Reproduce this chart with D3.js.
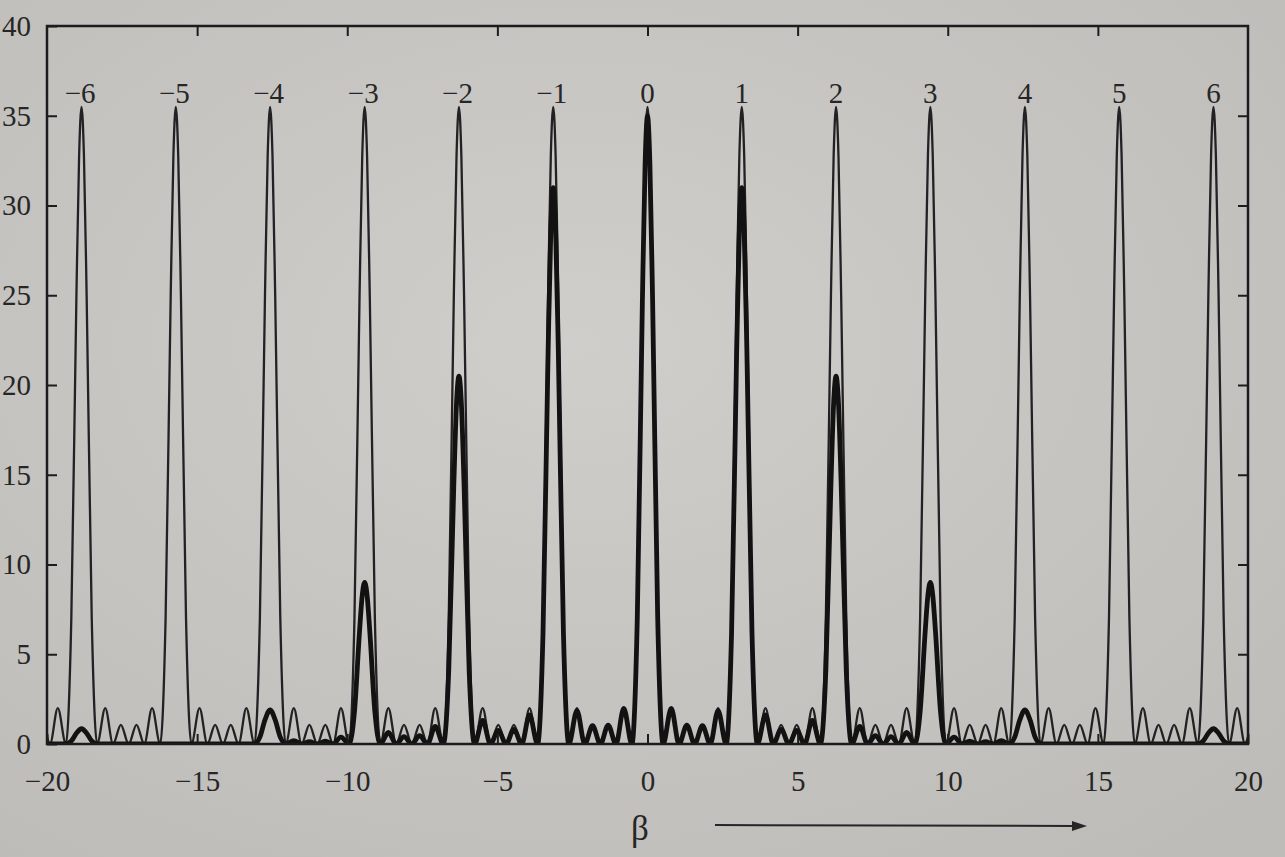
<!DOCTYPE html>
<html>
<head>
<meta charset="utf-8">
<script src="https://cdn.jsdelivr.net/npm/d3@7"></script>
<style>
  html, body { margin: 0; padding: 0; background: #c8c6c3; }
  svg { display: block; }
</style>
</head>
<body>
<svg id="chart" width="1285" height="857"></svg>
<script>
// ---- data ----
const xTicks = [-20, -15, -10, -5, 0, 5, 10, 15, 20];
const yTicks = [0, 5, 10, 15, 20, 25, 30, 35, 40];
const orderLabels = [-6, -5, -4, -3, -2, -1, 0, 1, 2, 3, 4, 5, 6];
const orderBeta = [-18.85, -15.71, -12.57, -9.42, -6.28, -3.14, 0, 3.14, 6.28, 9.42, 12.57, 15.71, 18.85];

// thin line: interference pattern of 6 slits  [beta, intensity]
const thinCurve = [
  [-20,0.4],[-19.9,0],[-19.64,2.0],[-19.37,0],[-19.19,7],[-19.02,25],[-18.93,32.8],[-18.85,35.5],[-18.77,32.8],[-18.68,25],[-18.51,7],[-18.33,0],[-18.06,2.0],[-17.8,0],[-17.54,1.07],[-17.28,0],
  [-17.02,1.07],[-16.76,0],[-16.5,2.0],[-16.23,0],[-16.05,7],[-15.88,25],[-15.79,32.8],[-15.71,35.5],[-15.63,32.8],[-15.54,25],[-15.37,7],[-15.19,0],[-14.92,2.0],[-14.66,0],[-14.4,1.07],[-14.14,0],
  [-13.88,1.07],[-13.62,0],[-13.36,2.0],[-13.09,0],[-12.91,7],[-12.74,25],[-12.65,32.8],[-12.57,35.5],[-12.49,32.8],[-12.4,25],[-12.23,7],[-12.05,0],[-11.78,2.0],[-11.52,0],[-11.26,1.07],[-11.0,0],
  [-10.73,1.07],[-10.47,0],[-10.21,2.0],[-9.94,0],[-9.76,7],[-9.59,25],[-9.5,32.8],[-9.42,35.5],[-9.34,32.8],[-9.25,25],[-9.08,7],[-8.9,0],[-8.63,2.0],[-8.37,0],[-8.11,1.07],[-7.85,0],
  [-7.59,1.07],[-7.33,0],[-7.07,2.0],[-6.8,0],[-6.62,7],[-6.45,25],[-6.36,32.8],[-6.28,35.5],[-6.2,32.8],[-6.11,25],[-5.94,7],[-5.76,0],[-5.49,2.0],[-5.23,0],[-4.97,1.07],[-4.71,0],
  [-4.45,1.07],[-4.19,0],[-3.93,2.0],[-3.66,0],[-3.48,7],[-3.31,25],[-3.22,32.8],[-3.14,35.5],[-3.06,32.8],[-2.97,25],[-2.8,7],[-2.62,0],[-2.35,2.0],[-2.09,0],[-1.83,1.07],[-1.57,0],
  [-1.31,1.07],[-1.05,0],[-0.79,2.0],[-0.52,0],[-0.34,7],[-0.17,25],[-0.08,32.8],[0,35.5],[0.08,32.8],[0.17,25],[0.34,7],[0.52,0],[0.79,2.0],[1.05,0],[1.31,1.07],[1.57,0],
  [1.83,1.07],[2.09,0],[2.35,2.0],[2.62,0],[2.8,7],[2.97,25],[3.06,32.8],[3.14,35.5],[3.22,32.8],[3.31,25],[3.48,7],[3.66,0],[3.93,2.0],[4.19,0],[4.45,1.07],[4.71,0],
  [4.97,1.07],[5.23,0],[5.49,2.0],[5.76,0],[5.94,7],[6.11,25],[6.2,32.8],[6.28,35.5],[6.36,32.8],[6.45,25],[6.62,7],[6.8,0],[7.07,2.0],[7.33,0],[7.59,1.07],[7.85,0],
  [8.11,1.07],[8.37,0],[8.63,2.0],[8.9,0],[9.08,7],[9.25,25],[9.34,32.8],[9.42,35.5],[9.5,32.8],[9.59,25],[9.76,7],[9.94,0],[10.21,2.0],[10.47,0],[10.73,1.07],[11.0,0],
  [11.26,1.07],[11.52,0],[11.78,2.0],[12.05,0],[12.23,7],[12.4,25],[12.49,32.8],[12.57,35.5],[12.65,32.8],[12.74,25],[12.91,7],[13.09,0],[13.36,2.0],[13.62,0],[13.88,1.07],[14.14,0],
  [14.4,1.07],[14.66,0],[14.92,2.0],[15.19,0],[15.37,7],[15.54,25],[15.63,32.8],[15.71,35.5],[15.79,32.8],[15.88,25],[16.05,7],[16.23,0],[16.5,2.0],[16.76,0],[17.02,1.07],[17.28,0],
  [17.54,1.07],[17.8,0],[18.06,2.0],[18.33,0],[18.51,7],[18.68,25],[18.77,32.8],[18.85,35.5],[18.93,32.8],[19.02,25],[19.19,7],[19.37,0],[19.64,2.0],[19.9,0],[20,0.4]
];

// thick line: same pattern modulated by the single-slit envelope  [beta, intensity]
const thickCurve = [
  [-20,0],[-19.37,0],[-19.19,0.17],[-19.02,0.6],[-18.85,0.85],[-18.68,0.6],[-18.51,0.17],[-18.33,0],
  [-13.09,0],[-12.91,0.38],[-12.74,1.34],[-12.57,1.9],[-12.4,1.34],[-12.23,0.38],[-12.05,0],[-11.78,0.18],[-11.52,0],[-11.26,0.13],[-11.0,0],
  [-10.73,0.16],[-10.47,0],[-10.21,0.38],[-9.94,0],[-9.76,1.8],[-9.59,6.3],[-9.5,8.3],[-9.42,9],[-9.34,8.3],[-9.25,6.3],[-9.08,1.8],[-8.9,0],[-8.63,0.65],[-8.37,0],[-8.11,0.41],[-7.85,0],
  [-7.59,0.46],[-7.33,0],[-7.07,0.98],[-6.8,0],[-6.62,4.1],[-6.45,14.5],[-6.36,19],[-6.28,20.5],[-6.2,19],[-6.11,14.5],[-5.94,4.1],[-5.76,0],[-5.49,1.31],[-5.23,0],[-4.97,0.76],[-4.71,0],
  [-4.45,0.82],[-4.19,0],[-3.93,1.62],[-3.66,0],[-3.48,6.2],[-3.31,21.9],[-3.22,28.6],[-3.14,31],[-3.06,28.6],[-2.97,21.9],[-2.8,6.2],[-2.62,0],[-2.35,1.86],[-2.09,0],[-1.83,1.02],[-1.57,0],
  [-1.31,1.05],[-1.05,0],[-0.79,1.98],[-0.52,0],[-0.34,7],[-0.17,24.7],[-0.08,32.3],[0,35],[0.08,32.3],[0.17,24.7],[0.34,7],[0.52,0],[0.79,1.98],[1.05,0],[1.31,1.05],[1.57,0],
  [1.83,1.02],[2.09,0],[2.35,1.86],[2.62,0],[2.8,6.2],[2.97,21.9],[3.06,28.6],[3.14,31],[3.22,28.6],[3.31,21.9],[3.48,6.2],[3.66,0],[3.93,1.62],[4.19,0],[4.45,0.82],[4.71,0],
  [4.97,0.76],[5.23,0],[5.49,1.31],[5.76,0],[5.94,4.1],[6.11,14.5],[6.2,19],[6.28,20.5],[6.36,19],[6.45,14.5],[6.62,4.1],[6.8,0],[7.07,0.98],[7.33,0],[7.59,0.46],[7.85,0],
  [8.11,0.41],[8.37,0],[8.63,0.65],[8.9,0],[9.08,1.8],[9.25,6.3],[9.34,8.3],[9.42,9],[9.5,8.3],[9.59,6.3],[9.76,1.8],[9.94,0],[10.21,0.38],[10.47,0],[10.73,0.16],[11.0,0],
  [11.26,0.13],[11.52,0],[11.78,0.18],[12.05,0],[12.23,0.38],[12.4,1.34],[12.57,1.9],[12.74,1.34],[12.91,0.38],[13.09,0],
  [18.33,0],[18.51,0.17],[18.68,0.6],[18.85,0.85],[19.02,0.6],[19.19,0.17],[19.37,0],[20,0]
];

// ---- drawing ----
const svg = d3.select('#chart');
const W = 1285, H = 857;
const mLeft = 47, mRight = 1248, mTop = 26, mBottom = 744;

const defs = svg.append('defs');
const grad = defs.append('radialGradient').attr('id', 'paper')
  .attr('cx', '45%').attr('cy', '40%').attr('r', '75%');
grad.append('stop').attr('offset', '0%').attr('stop-color', '#d0cecb');
grad.append('stop').attr('offset', '100%').attr('stop-color', '#bebcb8');
svg.append('rect').attr('width', W).attr('height', H).attr('fill', 'url(#paper)');

const x = d3.scaleLinear().domain([-20, 20]).range([mLeft, mRight]);
const y = d3.scaleLinear().domain([0, 40]).range([mBottom, mTop]);

const ink = '#1c1c1c';
const textInk = '#262626';
const font = '"Liberation Serif", "DejaVu Serif", serif';

defs.append('clipPath').attr('id', 'clip')
  .append('rect').attr('x', mLeft).attr('y', mTop).attr('width', mRight - mLeft).attr('height', mBottom - mTop);

const line = d3.line().x(d => x(d[0])).y(d => y(d[1])).curve(d3.curveMonotoneX);

const plot = svg.append('g').attr('clip-path', 'url(#clip)');
plot.append('path').datum(thinCurve).attr('d', line)
  .attr('fill', 'none').attr('stroke', '#222').attr('stroke-width', 2.3).attr('stroke-linejoin', 'round');
plot.append('path').datum(thickCurve).attr('d', line)
  .attr('fill', 'none').attr('stroke', '#121212').attr('stroke-width', 4.8).attr('stroke-linejoin', 'round');

// axes (inward ticks on all four sides)
const tickLen = 10;
const axB = d3.axisBottom(x).tickValues(xTicks).tickSize(tickLen).tickPadding(12)
  .tickFormat(d3.format('d'));
const gB = svg.append('g').attr('transform', `translate(0,${mBottom})`).call(axB);
gB.selectAll('.tick line').attr('y2', -tickLen);
gB.selectAll('.tick text').attr('dy', '0.85em');

const axT = d3.axisTop(x).tickValues(xTicks.slice(1, -1)).tickSize(-tickLen).tickFormat('');
const gT = svg.append('g').attr('transform', `translate(0,${mTop})`).call(axT);

const axL = d3.axisLeft(y).tickValues(yTicks).tickSize(-tickLen).tickPadding(16)
  .tickFormat(d3.format('d'));
const gL = svg.append('g').attr('transform', `translate(${mLeft},0)`).call(axL);

const axR = d3.axisRight(y).tickValues(yTicks.slice(1, -1)).tickSize(-tickLen).tickFormat('');
const gR = svg.append('g').attr('transform', `translate(${mRight},0)`).call(axR);

[gB, gT, gL, gR].forEach(g => {
  g.select('.domain').remove();
  g.selectAll('.tick line').attr('stroke', ink).attr('stroke-width', 2);
  g.selectAll('.tick text').attr('fill', textInk)
    .style('font-family', font).style('font-size', '29px');
});

// frame
svg.append('rect').attr('x', mLeft).attr('y', mTop)
  .attr('width', mRight - mLeft).attr('height', mBottom - mTop)
  .attr('fill', 'none').attr('stroke', ink).attr('stroke-width', 2.5);

// order labels above the peaks
svg.append('g').selectAll('text').data(orderLabels).join('text')
  .attr('x', (d, i) => x(orderBeta[i]) + (d < 0 ? 14 : 0))
  .attr('y', y(35.5) - 4)
  .attr('text-anchor', d => d < 0 ? 'end' : 'middle')
  .attr('fill', textInk)
  .style('font-family', font).style('font-size', '29px')
  .text(d => d < 0 ? '\u2212' + Math.abs(d) : String(d));

// beta axis label with arrow
svg.append('text').attr('x', 640).attr('y', 840).attr('text-anchor', 'middle')
  .attr('fill', textInk).style('font-family', font).style('font-size', '35px').text('β');
svg.append('line').attr('x1', 715).attr('y1', 825).attr('x2', 1074).attr('y2', 826)
  .attr('stroke', textInk).attr('stroke-width', 2);
svg.append('path').attr('d', 'M1072,821 L1087,826 L1072,831 Z').attr('fill', textInk);
</script>
</body>
</html>
